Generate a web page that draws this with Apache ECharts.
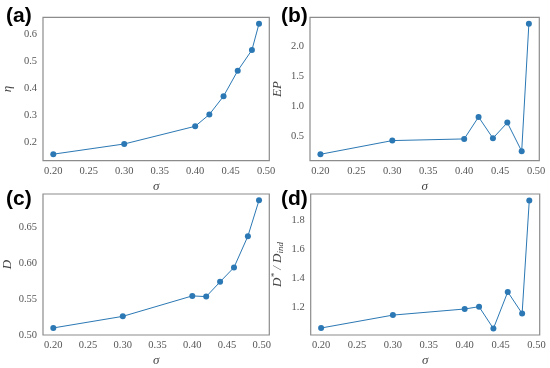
<!DOCTYPE html>
<html>
<head>
<meta charset="utf-8">
<script src="https://cdn.jsdelivr.net/npm/echarts@6/dist/echarts.min.js"></script>
<style>html,body{margin:0;padding:0;background:#fff;}#c{width:550px;height:368px;}</style>
</head>
<body>
<div id="c"></div>
<script>
// ---- data ----
const sigma = [0.20, 0.30, 0.40, 0.42, 0.44, 0.46, 0.48, 0.49];
const sigmaC = [0.20, 0.30, 0.40, 0.42, 0.44, 0.46, 0.48, 0.496];
const eta = [0.154, 0.192, 0.258, 0.302, 0.370, 0.465, 0.542, 0.640];
const EP = [0.192, 0.422, 0.450, 0.819, 0.461, 0.724, 0.243, 2.386];
const Dval = [0.5095, 0.5256, 0.554, 0.553, 0.5735, 0.5935, 0.637, 0.6867];
const Dratio = [1.060, 1.149, 1.191, 1.207, 1.056, 1.309, 1.160, 1.940];
const xTicks = [0.20, 0.25, 0.30, 0.35, 0.40, 0.45, 0.50];
const yTicksA = [0.2, 0.3, 0.4, 0.5, 0.6];
const yTicksB = [0.5, 1.0, 1.5, 2.0];
const yTicksC = [0.50, 0.55, 0.60, 0.65];
const yTicksD = [1.2, 1.4, 1.6, 1.8];
const panelLabels = ['(a)', '(b)', '(c)', '(d)'];

const chart = echarts.init(document.getElementById('c'), null, {renderer: 'canvas'});
const SERIF = "'Liberation Serif', 'DejaVu Serif', serif";
const LINE = '#2b78b4';
const pair = (xs, ys) => xs.map((x, i) => [x, ys[i]]);

const grids = [
  {left: 39.3, top: 17.3, width: 230, height: 143.4},
  {left: 310, top: 17.3, width: 229.3, height: 143.4},
  {left: 41.3, top: 194, width: 228, height: 145.3},
  {left: 310.7, top: 194, width: 229, height: 145.3}
].map(g => Object.assign({show: true, borderColor: '#8c8c8c', borderWidth: 1.2, backgroundColor: '#fff'}, g));

const xr = [[0.1855, 0.5045], [0.1855, 0.5045], [0.1852, 0.5108], [0.1855, 0.5045]];
const yr = [[0.1297, 0.664], [0.084, 2.494], [0.4997, 0.6955], [1.0118, 1.984]];
const yt = [yTicksA, yTicksB, yTicksC, yTicksD];
const ydec = [1, 1, 2, 1];

const xAxis = grids.map((g, i) => ({
  type: 'value', gridIndex: i, min: xr[i][0], max: xr[i][1],
  axisLine: {show: false}, axisTick: {show: false}, splitLine: {show: false},
  axisLabel: {customValues: xTicks, formatter: v => v.toFixed(2), color: '#555', fontFamily: SERIF, fontSize: 10.5, margin: 5},
  name: 'σ', nameLocation: 'middle', nameGap: 19,
  nameTextStyle: {fontFamily: SERIF, fontStyle: 'italic', fontSize: 13, color: '#444'}
}));

const yNames = [
  'η',
  'EP',
  'D',
  '{a|D}{s|*}{a| / D}{b|ind}'
];
const yNameGaps = [29, 26, 29, 26];
const yAxis = grids.map((g, i) => ({
  type: 'value', gridIndex: i, min: yr[i][0], max: yr[i][1],
  axisLine: {show: false}, axisTick: {show: false}, splitLine: {show: false},
  axisLabel: {customValues: yt[i], formatter: v => v.toFixed(ydec[i]), color: '#555', fontFamily: SERIF, fontSize: 10.5, margin: 6},
  name: yNames[i], nameLocation: 'middle', nameGap: yNameGaps[i], nameRotate: 90,
  nameTextStyle: {fontFamily: SERIF, fontStyle: 'italic', fontSize: 13, color: '#444',
    rich: {
      a: {fontFamily: SERIF, fontStyle: 'italic', fontSize: 13, color: '#444'},
      s: {fontFamily: SERIF, fontSize: 9, color: '#444', verticalAlign: 'top', padding: [0, 0, 6, 0]},
      b: {fontFamily: SERIF, fontStyle: 'italic', fontSize: 9, color: '#444', verticalAlign: 'bottom', padding: [5, 0, 0, 0]}
    }}
}));

const ys = [eta, EP, Dval, Dratio];
const xs = [sigma, sigma, sigmaC, sigma];
const series = ys.map((arr, i) => ({
  type: 'line', xAxisIndex: i, yAxisIndex: i, data: pair(xs[i], arr),
  symbol: 'circle', symbolSize: 6, showSymbol: true,
  lineStyle: {color: LINE, width: 1}, itemStyle: {color: LINE}, animation: false
}));

const labelPos = [[6, 6], [281, 6], [6, 189], [281, 189]];
const graphic = panelLabels.map((t, i) => ({
  type: 'text', left: labelPos[i][0], top: labelPos[i][1],
  style: {text: t, font: "bold 21px 'Liberation Sans', Arial, sans-serif", fill: '#000'}
}));

chart.setOption({animation: false, grid: grids, xAxis, yAxis, series, graphic});
</script>
</body>
</html>
